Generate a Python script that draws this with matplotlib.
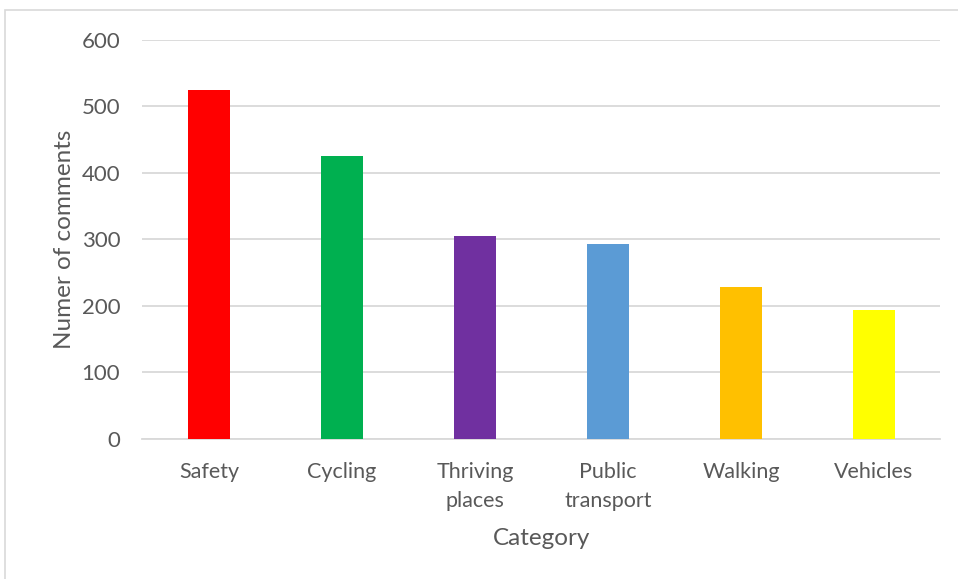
import matplotlib
matplotlib.use("Agg")
import matplotlib.pyplot as plt
from matplotlib.patches import Rectangle

categories = ["Safety", "Cycling", "Thriving\nplaces", "Public\ntransport", "Walking", "Vehicles"]
comments = [525, 425, 304, 293, 228, 194]
bar_colors = ["#FF0000", "#00B050", "#7030A0", "#5B9BD5", "#FFC000", "#FFFF00"]
y_ticks = [0, 100, 200, 300, 400, 500, 600]

plt.rcParams["font.family"] = ["Lato", "DejaVu Sans"]
text_color = "#595959"
grid_color = "#D9D9D9"

fig = plt.figure(figsize=(9.58, 5.79), dpi=100)
fig.patch.set_facecolor("white")

# outer chart-area frame
fig.patches.append(Rectangle((5 / 958, -0.01), 1.0, 1 - 10 / 579 + 0.01,
                             transform=fig.transFigure, fill=False,
                             edgecolor=grid_color, linewidth=1.2))

ax = fig.add_axes([0.1487, 0.2425, 0.8330, 0.6889])
x = list(range(len(categories)))
ax.bar(x, comments, width=0.316, color=bar_colors, zorder=3)

ax.set_xlim(-0.5, len(categories) - 0.5)
ax.set_ylim(0, 600)
ax.set_yticks(y_ticks)
ax.set_yticklabels([str(v) for v in y_ticks])
ax.set_xticks(x)
ax.set_xticklabels(categories, linespacing=1.55)

ax.yaxis.grid(True, color=grid_color, linewidth=1.3, zorder=0)
for side in ("top", "right", "left"):
    ax.spines[side].set_visible(False)
ax.spines["bottom"].set_color(grid_color)
ax.spines["bottom"].set_linewidth(1.3)

ax.tick_params(axis="y", length=0, pad=16, labelsize=16, labelcolor=text_color)
ax.tick_params(axis="x", length=0, pad=17, labelsize=15.5, labelcolor=text_color)

ax.set_ylabel("Numer of comments", fontsize=17.5, color=text_color, labelpad=5)
ax.set_xlabel("Category", fontsize=17.5, color=text_color, labelpad=12)

fig.savefig("out.png", dpi=100, facecolor="white")
